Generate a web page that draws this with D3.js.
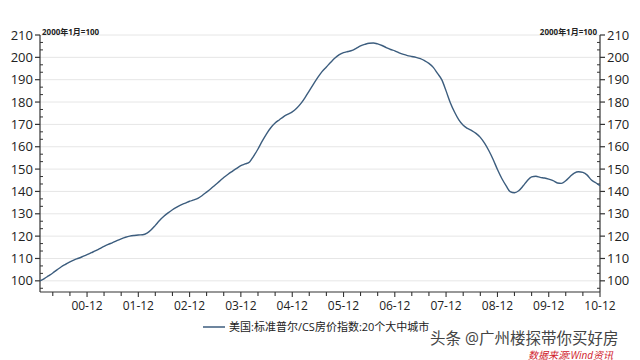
<!DOCTYPE html>
<html><head><meta charset="utf-8">
<script src="https://cdn.jsdelivr.net/npm/d3@7"></script>
<style>
html,body{margin:0;padding:0;background:#fff;}
svg{display:block;font-family:"Open Sans","Noto Sans CJK SC",sans-serif;}
</style></head>
<body><svg id="c" width="640" height="360"></svg>
<script>
const startMonth = "2000-01";
const values = [
 100.0,101.0,102.2,103.5,104.9,106.3,107.4,108.5,109.4,110.1,110.9,111.7,
 112.6,113.5,114.4,115.4,116.3,117.1,118.0,118.8,119.5,120.0,120.3,120.5,
 120.6,121.3,122.7,124.8,127.0,128.9,130.4,131.8,133.0,134.0,134.8,135.6,
 136.2,137.0,138.2,139.7,141.2,142.9,144.5,146.2,147.7,149.0,150.3,151.5,
 152.3,153.2,155.8,159.0,162.5,165.8,168.5,170.6,172.1,173.5,174.6,175.6,
 177.2,179.4,181.9,185.0,188.0,191.0,193.6,195.7,197.8,199.7,201.2,202.1,
 202.6,203.1,204.0,205.1,205.8,206.3,206.4,206.0,205.3,204.4,203.5,202.9,
 202.0,201.3,200.8,200.4,200.0,199.4,198.5,197.3,195.5,192.8,189.9,185.0,
 179.6,175.3,172.0,169.6,168.2,167.2,166.0,164.2,161.5,158.2,154.2,149.8,
 145.8,142.5,139.9,139.4,140.3,142.4,144.8,146.5,146.8,146.3,146.0,145.5,
 144.8,143.8,143.6,144.8,146.6,148.2,148.8,148.5,147.3,145.1,143.9,142.6
];
const xTickLabels = ["00-12","01-12","02-12","03-12","04-12","05-12","06-12","07-12","08-12","09-12","10-12"];
const yTicks = [100,110,120,130,140,150,160,170,180,190,200,210];
const seriesName = "美国:标准普尔/CS房价指数:20个大中城市";
const baseNote = "2000年1月=100";

const parse = d3.timeParse("%Y-%m");
const t0 = parse(startMonth);
const data = values.map((v,i)=>({d:d3.timeMonth.offset(t0,i), v}));

const svg = d3.select("#c");
const L=40, R=600, T=35, B=292;
const x = d3.scaleTime().domain([data[0].d, data[data.length-1].d]).range([L,R]);
const y = d3.scaleLinear().domain([95,210]).range([B,T]);
const lineC = "#3c5d7e", axC="#333", txt="#222";

// gridlines
svg.append("g").selectAll("line").data(yTicks).join("line")
 .attr("x1",L).attr("x2",R).attr("y1",d=>y(d)).attr("y2",d=>y(d))
 .attr("stroke","#e6e6e6").attr("stroke-width",1);

// minor y ticks
const minorY = [];
for (let k=0;k<=34;k++){ const v=96.6667+k*(10/3); if (v<=210.01 && Math.abs((v-100)%10)>0.5 && Math.abs((v-100)%10-10)>0.5) minorY.push(v); }

function yAxis(side){
  const g = svg.append("g");
  const ax = side==="left"? L : R;
  const out = side==="left"? -1 : 1;
  g.append("line").attr("x1",ax).attr("x2",ax).attr("y1",y(210)).attr("y2",B).attr("stroke",axC).attr("stroke-width",1.2);
  g.selectAll("line.maj").data(yTicks).join("line").attr("class","maj")
   .attr("x1",ax).attr("x2",ax+out*5).attr("y1",d=>y(d)).attr("y2",d=>y(d)).attr("stroke",axC).attr("stroke-width",1.2);
  g.selectAll("line.min").data(minorY).join("line").attr("class","min")
   .attr("x1",ax).attr("x2",ax-out*3).attr("y1",d=>y(d)).attr("y2",d=>y(d)).attr("stroke",axC).attr("stroke-width",1);
  g.selectAll("text").data(yTicks).join("text")
   .attr("x", side==="left"? ax-7 : ax+7).attr("y",d=>y(d)+4.5)
   .attr("text-anchor", side==="left"?"end":"start")
   .attr("font-size",13).attr("fill",txt).text(d=>d);
}
yAxis("left"); yAxis("right");

// x axis
const xTicksAll = d3.timeMonth.every(1).range(data[0].d, d3.timeMonth.offset(data[data.length-1].d,1))
  .filter(d=>[3,7,11].includes(d.getMonth()));
const xg = svg.append("g");
xg.append("line").attr("x1",L).attr("x2",R).attr("y1",B).attr("y2",B).attr("stroke",axC).attr("stroke-width",1.2);
xg.selectAll("line.t").data(xTicksAll).join("line").attr("class","t")
  .attr("x1",d=>x(d)).attr("x2",d=>x(d)).attr("y1",B).attr("y2",d=>B+(d.getMonth()===11?5:4))
  .attr("stroke",axC).attr("stroke-width",1.1);
const decs = xTicksAll.filter(d=>d.getMonth()===11);
xg.selectAll("text").data(decs).join("text")
  .attr("x",d=>x(d)).attr("y",B+18).attr("text-anchor","middle")
  .attr("font-size",12).attr("fill",txt).text((d,i)=>xTickLabels[i]);

// notes
svg.append("text").attr("x",42).attr("y",35).attr("font-size",8).attr("font-weight","bold").attr("fill","#222").text(baseNote);
svg.append("text").attr("x",597).attr("y",35).attr("text-anchor","end").attr("font-size",8).attr("font-weight","bold").attr("fill","#222").text(baseNote);

// line
svg.append("path").datum(data)
  .attr("d", d3.line().x(d=>x(d.d)).y(d=>y(d.v)).curve(d3.curveMonotoneX))
  .attr("fill","none").attr("stroke",lineC).attr("stroke-width",1.4);

// legend
svg.append("line").attr("x1",203).attr("x2",225).attr("y1",327).attr("y2",327).attr("stroke",lineC).attr("stroke-width",1.5);
svg.append("text").attr("x",229).attr("y",331).attr("font-size",11).attr("fill","#222").text(seriesName);

// watermark
svg.append("text").attr("x",430).attr("y",344).attr("font-size",15.5)
  .attr("fill","#444").attr("stroke","#fff").attr("stroke-width",2.5).attr("paint-order","stroke")
  .text("头条 @广州楼探带你买好房");
svg.append("text").attr("x",528).attr("y",358.5).attr("font-size",10).attr("font-style","italic")
  .attr("fill","#d0202a").text("数据来源:Wind资讯");
</script></body></html>
